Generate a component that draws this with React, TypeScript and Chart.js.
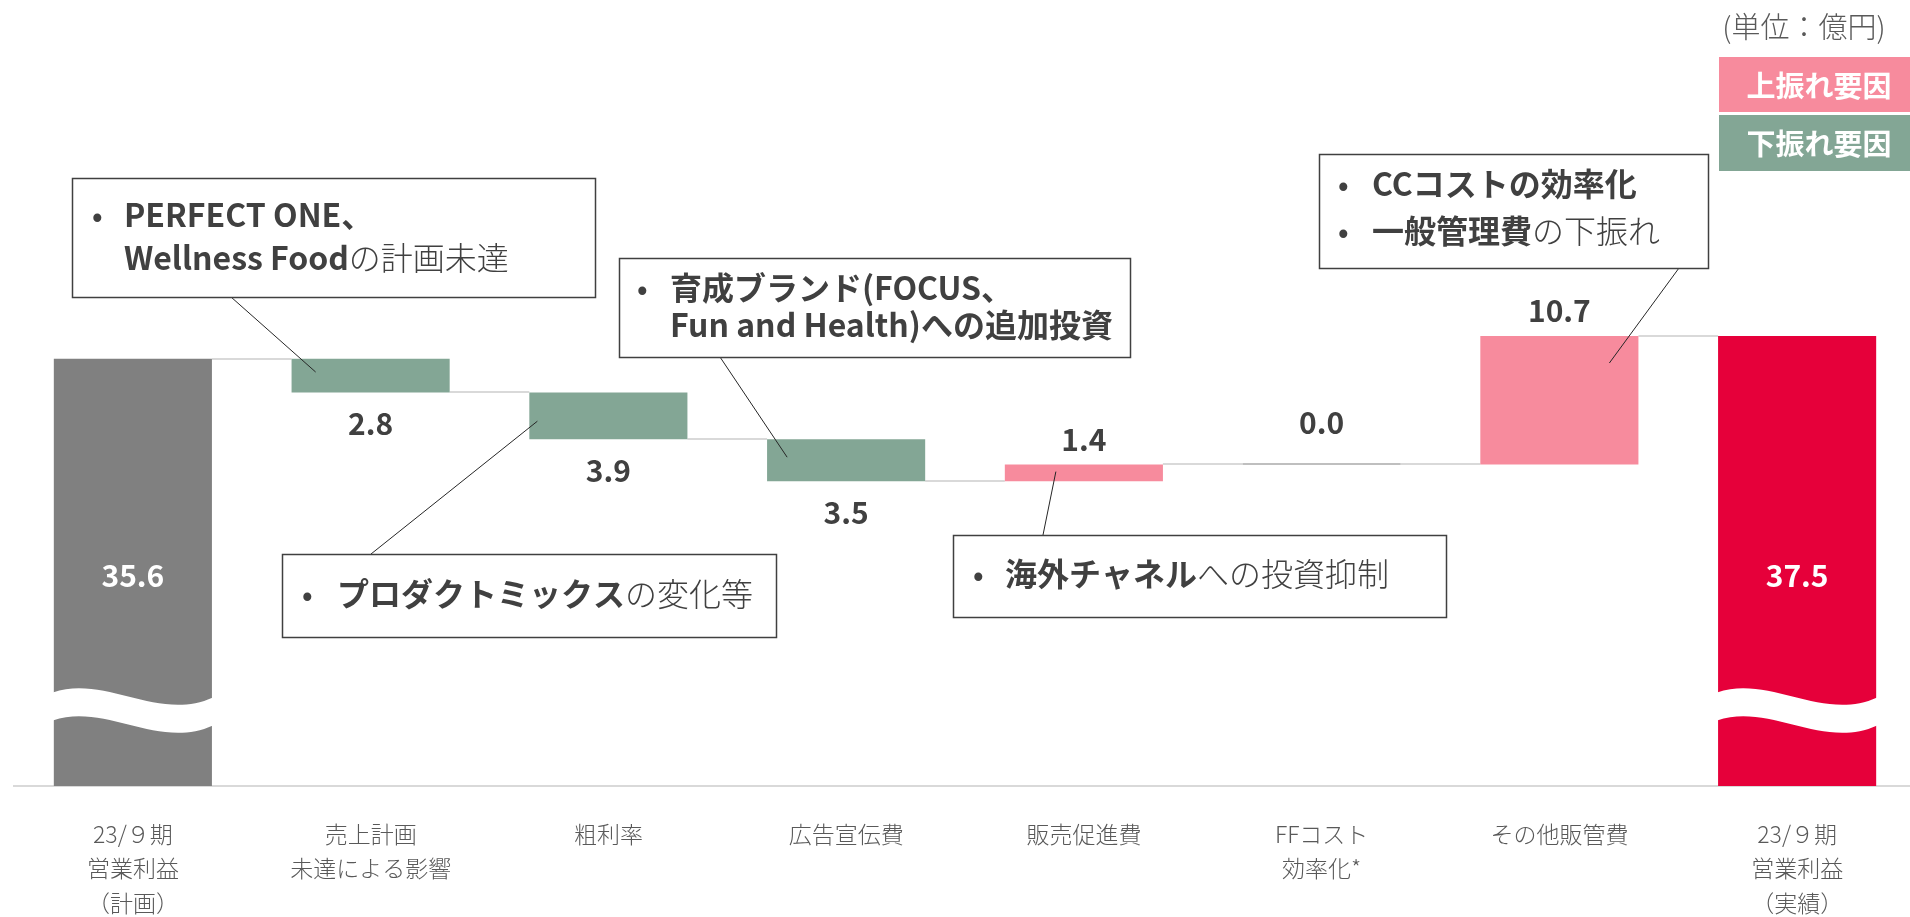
import React, { useEffect, useRef } from 'react';
import { Chart, registerables } from 'chart.js';

Chart.register(...registerables);

// ---------- data ----------
const categories: string[][] = [
  ['23/９期', '営業利益', '（計画）'],
  ['売上計画', '未達による影響'],
  ['粗利率'],
  ['広告宣伝費'],
  ['販売促進費'],
  ['FFコスト', '効率化*'],
  ['その他販管費'],
  ['23/９期', '営業利益', '（実績）'],
];
const changes = [35.6, -2.8, -3.9, -3.5, 1.4, 0.0, 10.7, 37.5];
const barKinds = ['plan', 'change', 'change', 'change', 'change', 'change', 'change', 'result'];
const valueLabels = ['35.6', '2.8', '3.9', '3.5', '1.4', '0.0', '10.7', '37.5'];
const legendLabels = ['上振れ要因', '下振れ要因'];
const unitLabel = '(単位：億円)';

// ---------- styles ----------
const FONT = "'Noto Sans CJK JP', 'Noto Sans', sans-serif";
const COLORS = {
  plan: '#808080',
  result: '#E6003A',
  up: '#F78B9D',
  down: '#83A695',
  connector: '#D9D9D9',
  zero: '#BFBFBF',
  text: '#404040',
  tick: '#595959',
};
const BREAK_LEVEL = 7.8; // where the decorative wave cut sits on total bars

type Run = [string, boolean];
interface Note {
  idx: number;
  level: number;
  dx: number;
  box: [number, number, number, number];
  anchor: [number, number];
  bulletX: number;
  textX: number;
  lines: { y: number; runs: Run[]; bullet: boolean }[];
}

const notes: Note[] = [
  {
    idx: 1, level: 34.5, dx: -55,
    box: [72, 178, 523, 119], anchor: [231, 297], bulletX: 92, textX: 124,
    lines: [
      { y: 215, bullet: true, runs: [['PERFECT ONE、', true]] },
      { y: 258, bullet: false, runs: [['Wellness Food', true], ['の計画未達', false]] },
    ],
  },
  {
    idx: 2, level: 30.4, dx: -71,
    box: [282, 554, 494, 83], anchor: [371, 554], bulletX: 302, textX: 337,
    lines: [{ y: 594, bullet: true, runs: [['プロダクトミックス', true], ['の変化等', false]] }],
  },
  {
    idx: 3, level: 27.4, dx: -59,
    box: [619, 258, 511, 99], anchor: [720, 357], bulletX: 637, textX: 670,
    lines: [
      { y: 288, bullet: true, runs: [['育成ブランド(FOCUS、', true]] },
      { y: 325, bullet: false, runs: [['Fun and Health)への追加投資', true]] },
    ],
  },
  {
    idx: 4, level: 26.2, dx: -28,
    box: [953, 535, 493, 82], anchor: [1043, 535], bulletX: 973, textX: 1005,
    lines: [{ y: 574, bullet: true, runs: [['海外チャネル', true], ['への投資抑制', false]] }],
  },
  {
    idx: 6, level: 35.25, dx: 50,
    box: [1319, 154, 389, 114], anchor: [1679, 268], bulletX: 1338, textX: 1372,
    lines: [
      { y: 184, bullet: true, runs: [['CCコストの効率化', true]] },
      { y: 231, bullet: true, runs: [['一般管理費', true], ['の下振れ', false]] },
    ],
  },
];

// ---------- derived waterfall ranges ----------
const ranges: [number, number][] = [];
const levels: number[] = [];
{
  let running = 0;
  changes.forEach((v, i) => {
    if (barKinds[i] === 'change') {
      const start = running;
      running = +(running + v).toFixed(2);
      ranges.push([start, running]);
    } else {
      ranges.push([0, v]);
      running = v;
    }
    levels.push(running);
  });
}
const barColors = changes.map((v, i) =>
  barKinds[i] === 'plan' ? COLORS.plan : barKinds[i] === 'result' ? COLORS.result : v < 0 ? COLORS.down : COLORS.up
);

const decorPlugin = {
  id: 'waterfallDecor',
  beforeDatasetsDraw(chart: any) {
    const ctx = chart.ctx;
    const meta = chart.getDatasetMeta(0);
    const yS = chart.scales.y;
    ctx.save();
    ctx.strokeStyle = COLORS.connector;
    ctx.lineWidth = 2;
    for (let i = 0; i < meta.data.length - 1; i++) {
      const a = meta.data[i];
      const b = meta.data[i + 1];
      const y = Math.round(yS.getPixelForValue(levels[i]));
      ctx.beginPath();
      ctx.moveTo(a.x + a.width / 2, y);
      ctx.lineTo(b.x - b.width / 2, y);
      ctx.stroke();
    }
    ctx.restore();
  },
  afterDatasetsDraw(chart: any) {
    const ctx = chart.ctx;
    const meta = chart.getDatasetMeta(0);
    const xS = chart.scales.x;
    const yS = chart.scales.y;
    ctx.save();

    // zero-height bars
    meta.data.forEach((el: any, i: number) => {
      if (barKinds[i] === 'change' && changes[i] === 0) {
        const y = Math.round(yS.getPixelForValue(levels[i]));
        ctx.strokeStyle = COLORS.zero;
        ctx.lineWidth = 2;
        ctx.beginPath();
        ctx.moveTo(el.x - el.width / 2, y);
        ctx.lineTo(el.x + el.width / 2, y);
        ctx.stroke();
      }
    });

    // wave cut on total bars
    meta.data.forEach((el: any, i: number) => {
      if (barKinds[i] === 'change') return;
      const L = el.x - el.width / 2 - 1;
      const R = el.x + el.width / 2 + 1;
      const w = R - L;
      const y0 = yS.getPixelForValue(BREAK_LEVEL);
      const t = 28;
      ctx.fillStyle = '#ffffff';
      ctx.beginPath();
      ctx.moveTo(L, y0);
      ctx.bezierCurveTo(L + 0.33 * w, y0 - 18, L + 0.66 * w, y0 + 30, R, y0 + 5);
      ctx.lineTo(R, y0 + 5 + t);
      ctx.bezierCurveTo(L + 0.66 * w, y0 + 30 + t, L + 0.33 * w, y0 - 18 + t, L, y0 + t);
      ctx.closePath();
      ctx.fill();
    });

    // value labels
    ctx.textAlign = 'center';
    ctx.textBaseline = 'middle';
    ctx.font = `bold 30px ${FONT}`;
    meta.data.forEach((el: any, i: number) => {
      const top = Math.min(el.y, el.base);
      const bottom = Math.max(el.y, el.base);
      if (barKinds[i] !== 'change') {
        ctx.fillStyle = '#ffffff';
        ctx.fillText(valueLabels[i], el.x, yS.getPixelForValue(ranges[0][1] / 2) + 3);
      } else if (changes[i] < 0) {
        ctx.fillStyle = COLORS.text;
        ctx.fillText(valueLabels[i], el.x, bottom + 31);
      } else if (changes[i] > 0) {
        ctx.fillStyle = COLORS.text;
        ctx.fillText(valueLabels[i], el.x, top - 25);
      } else {
        ctx.fillStyle = COLORS.text;
        ctx.fillText(valueLabels[i], el.x, top - 42);
      }
    });

    // annotation boxes
    notes.forEach((n) => {
      const tx = xS.getPixelForValue(n.idx) + n.dx;
      const ty = yS.getPixelForValue(n.level);
      ctx.strokeStyle = '#262626';
      ctx.lineWidth = 1;
      ctx.beginPath();
      ctx.moveTo(n.anchor[0], n.anchor[1]);
      ctx.lineTo(tx, ty);
      ctx.stroke();

      ctx.fillStyle = '#ffffff';
      ctx.fillRect(n.box[0], n.box[1], n.box[2], n.box[3]);
      ctx.strokeStyle = '#404040';
      ctx.lineWidth = 1.5;
      ctx.strokeRect(n.box[0] + 0.5, n.box[1] + 0.5, n.box[2], n.box[3]);

      ctx.textAlign = 'left';
      ctx.textBaseline = 'middle';
      n.lines.forEach((ln) => {
        if (ln.bullet) {
          ctx.fillStyle = COLORS.text;
          ctx.font = `bold 28px ${FONT}`;
          ctx.fillText('•', n.bulletX, ln.y);
        }
        let x = n.textX;
        ln.runs.forEach(([txt, bold]) => {
          ctx.font = `${bold ? 'bold' : '300'} 32px ${FONT}`;
          ctx.fillStyle = COLORS.text;
          ctx.fillText(txt, x, ln.y);
          x += ctx.measureText(txt).width;
        });
      });
    });

    // unit label
    ctx.textAlign = 'center';
    ctx.textBaseline = 'middle';
    ctx.fillStyle = COLORS.tick;
    ctx.font = `300 29px ${FONT}`;
    ctx.fillText(unitLabel, 1804, 27);

    // legend boxes
    const legendColors = [COLORS.up, COLORS.down];
    const legendRects = [
      [1719, 57, 200, 55],
      [1719, 115, 200, 56],
    ];
    legendLabels.forEach((lab, i) => {
      const r = legendRects[i];
      ctx.fillStyle = legendColors[i];
      ctx.fillRect(r[0], r[1], r[2], r[3]);
      ctx.fillStyle = '#ffffff';
      ctx.font = `bold 29px ${FONT}`;
      ctx.textAlign = 'center';
      ctx.fillText(lab, 1819, r[1] + r[3] / 2 + 1);
    });

    ctx.restore();
  },
};

export default function App() {
  const ref = useRef<HTMLCanvasElement | null>(null);
  useEffect(() => {
    if (!ref.current) return;
    const chart = new Chart(ref.current, {
      type: 'bar',
      data: {
        labels: categories,
        datasets: [
          {
            data: ranges as any,
            backgroundColor: barColors,
            borderWidth: 0,
            categoryPercentage: 1,
            barPercentage: 0.665,
          },
        ],
      },
      options: {
        responsive: false,
        animation: false,
        devicePixelRatio: 1,
        layout: { padding: { top: 66, left: 14, right: 4, bottom: 0 } },
        plugins: { legend: { display: false }, tooltip: { enabled: false } },
        scales: {
          x: {
            grid: { display: false, drawTicks: false },
            border: { display: true, color: '#D9D9D9', width: 2 },
            ticks: {
              color: COLORS.tick,
              padding: 31,
              maxRotation: 0,
              autoSkip: false,
              font: { family: FONT, size: 23, weight: '300' as any, lineHeight: 1.5 },
            },
            afterFit: (scale: any) => {
              scale.height = 131;
            },
          },
          y: {
            display: false,
            min: 0,
            max: 60,
          },
        },
      },
      plugins: [decorPlugin],
    });
    return () => chart.destroy();
  }, []);
  return (
    <div style={{ position: 'fixed', left: 0, top: 0, width: 1910, height: 917, overflow: 'hidden', background: '#fff' }}>
      <canvas ref={ref} width={1920} height={917} style={{ display: 'block' }} />
    </div>
  );
}
